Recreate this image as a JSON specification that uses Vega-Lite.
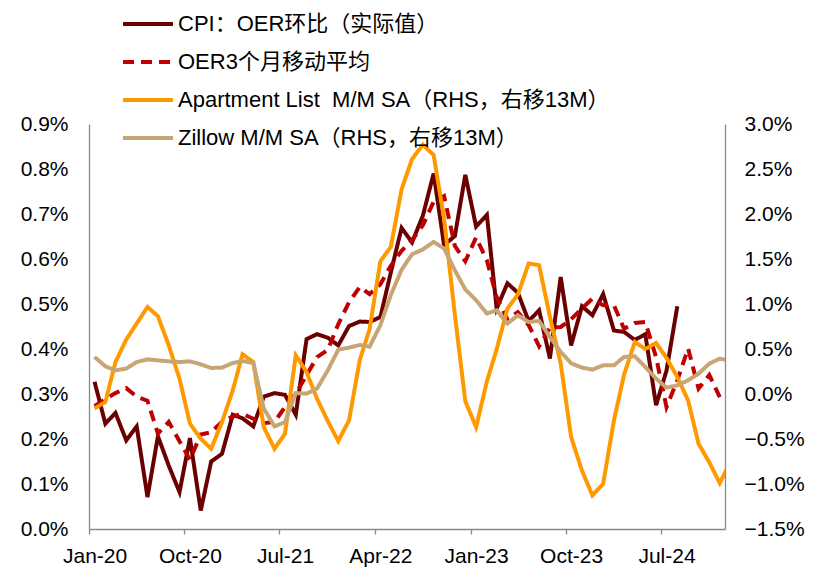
{
  "$schema": "https://vega.github.io/schema/vega-lite/v6.json",
  "width": 636,
  "height": 405,
  "autosize": {"type": "none"},
  "padding": {"left": 89, "top": 124, "right": 96, "bottom": 53},
  "background": "white",
  "config": {
    "view": {"stroke": null},
    "font": "Liberation Sans, Noto Sans CJK SC",
    "axis": {
      "labelFont": "Liberation Sans, Noto Sans CJK SC",
      "labelFontSize": 21,
      "labelColor": "#000000",
      "domainColor": "#898989",
      "domainWidth": 1.3,
      "tickColor": "#898989",
      "tickWidth": 1.3,
      "grid": false,
      "title": null
    }
  },
  "data": {
    "values": [
      {"date": "2020-01-01", "cpi": 0.327, "oer3": 0.273, "apt": -0.16, "zillow": 0.411},
      {"date": "2020-02-01", "cpi": 0.234, "oer3": 0.289, "apt": -0.09, "zillow": 0.308},
      {"date": "2020-03-01", "cpi": 0.258, "oer3": 0.302, "apt": 0.355, "zillow": 0.263},
      {"date": "2020-04-01", "cpi": 0.197, "oer3": 0.313, "apt": 0.605, "zillow": 0.282},
      {"date": "2020-05-01", "cpi": 0.228, "oer3": 0.294, "apt": 0.783, "zillow": 0.355},
      {"date": "2020-06-01", "cpi": 0.071, "oer3": 0.285, "apt": 0.967, "zillow": 0.385},
      {"date": "2020-07-01", "cpi": 0.206, "oer3": 0.212, "apt": 0.864, "zillow": 0.374},
      {"date": "2020-08-01", "cpi": 0.141, "oer3": 0.238, "apt": 0.541, "zillow": 0.363},
      {"date": "2020-09-01", "cpi": 0.082, "oer3": 0.195, "apt": 0.171, "zillow": 0.355},
      {"date": "2020-10-01", "cpi": 0.202, "oer3": 0.154, "apt": -0.33, "zillow": 0.363},
      {"date": "2020-11-01", "cpi": 0.041, "oer3": 0.21, "apt": -0.497, "zillow": 0.33},
      {"date": "2020-12-01", "cpi": 0.15, "oer3": 0.215, "apt": -0.608, "zillow": 0.289},
      {"date": "2021-01-01", "cpi": 0.167, "oer3": 0.238, "apt": -0.312, "zillow": 0.293},
      {"date": "2021-02-01", "cpi": 0.254, "oer3": 0.25, "apt": 0.041, "zillow": 0.344},
      {"date": "2021-03-01", "cpi": 0.246, "oer3": 0.256, "apt": 0.441, "zillow": 0.367},
      {"date": "2021-04-01", "cpi": 0.228, "oer3": 0.245, "apt": 0.355, "zillow": 0.344},
      {"date": "2021-05-01", "cpi": 0.294, "oer3": 0.235, "apt": -0.368, "zillow": -0.16},
      {"date": "2021-06-01", "cpi": 0.302, "oer3": 0.238, "apt": -0.608, "zillow": -0.36},
      {"date": "2021-07-01", "cpi": 0.298, "oer3": 0.271, "apt": -0.441, "zillow": -0.312},
      {"date": "2021-08-01", "cpi": 0.254, "oer3": 0.301, "apt": 0.43, "zillow": 0.011},
      {"date": "2021-09-01", "cpi": 0.422, "oer3": 0.342, "apt": 0.244, "zillow": 0.004},
      {"date": "2021-10-01", "cpi": 0.433, "oer3": 0.382, "apt": -0.052, "zillow": 0.06},
      {"date": "2021-11-01", "cpi": 0.425, "oer3": 0.398, "apt": -0.301, "zillow": 0.263},
      {"date": "2021-12-01", "cpi": 0.408, "oer3": 0.455, "apt": -0.523, "zillow": 0.493},
      {"date": "2022-01-01", "cpi": 0.451, "oer3": 0.504, "apt": -0.293, "zillow": 0.515},
      {"date": "2022-02-01", "cpi": 0.461, "oer3": 0.538, "apt": 0.38, "zillow": 0.545},
      {"date": "2022-03-01", "cpi": 0.46, "oer3": 0.522, "apt": 0.72, "zillow": 0.526},
      {"date": "2022-04-01", "cpi": 0.471, "oer3": 0.544, "apt": 1.475, "zillow": 0.765},
      {"date": "2022-05-01", "cpi": 0.57, "oer3": 0.585, "apt": 1.635, "zillow": 1.1},
      {"date": "2022-06-01", "cpi": 0.669, "oer3": 0.618, "apt": 2.275, "zillow": 1.38},
      {"date": "2022-07-01", "cpi": 0.637, "oer3": 0.642, "apt": 2.61, "zillow": 1.553},
      {"date": "2022-08-01", "cpi": 0.696, "oer3": 0.675, "apt": 2.77, "zillow": 1.606},
      {"date": "2022-09-01", "cpi": 0.79, "oer3": 0.727, "apt": 2.655, "zillow": 1.69},
      {"date": "2022-10-01", "cpi": 0.631, "oer3": 0.74, "apt": 1.95, "zillow": 1.617},
      {"date": "2022-11-01", "cpi": 0.651, "oer3": 0.629, "apt": 0.88, "zillow": 1.375},
      {"date": "2022-12-01", "cpi": 0.787, "oer3": 0.595, "apt": -0.08, "zillow": 1.161},
      {"date": "2023-01-01", "cpi": 0.672, "oer3": 0.648, "apt": -0.368, "zillow": 1.042},
      {"date": "2023-02-01", "cpi": 0.698, "oer3": 0.597, "apt": 0.14, "zillow": 0.894},
      {"date": "2023-03-01", "cpi": 0.49, "oer3": 0.515, "apt": 0.495, "zillow": 0.93},
      {"date": "2023-04-01", "cpi": 0.546, "oer3": 0.466, "apt": 0.95, "zillow": 0.783},
      {"date": "2023-05-01", "cpi": 0.525, "oer3": 0.482, "apt": 1.105, "zillow": 0.875},
      {"date": "2023-06-01", "cpi": 0.462, "oer3": 0.453, "apt": 1.45, "zillow": 0.8},
      {"date": "2023-07-01", "cpi": 0.486, "oer3": 0.406, "apt": 1.431, "zillow": 0.812},
      {"date": "2023-08-01", "cpi": 0.379, "oer3": 0.447, "apt": 0.86, "zillow": 0.634},
      {"date": "2023-09-01", "cpi": 0.56, "oer3": 0.449, "apt": 0.34, "zillow": 0.468},
      {"date": "2023-10-01", "cpi": 0.408, "oer3": 0.466, "apt": -0.479, "zillow": 0.341},
      {"date": "2023-11-01", "cpi": 0.495, "oer3": 0.49, "apt": -0.849, "zillow": 0.293},
      {"date": "2023-12-01", "cpi": 0.475, "oer3": 0.512, "apt": -1.127, "zillow": 0.271},
      {"date": "2024-01-01", "cpi": 0.522, "oer3": 0.497, "apt": -0.997, "zillow": 0.319},
      {"date": "2024-02-01", "cpi": 0.441, "oer3": 0.497, "apt": -0.293, "zillow": 0.319},
      {"date": "2024-03-01", "cpi": 0.438, "oer3": 0.445, "apt": 0.215, "zillow": 0.411},
      {"date": "2024-04-01", "cpi": 0.42, "oer3": 0.458, "apt": 0.578, "zillow": 0.419},
      {"date": "2024-05-01", "cpi": 0.433, "oer3": 0.46, "apt": 0.5, "zillow": 0.3},
      {"date": "2024-06-01", "cpi": 0.275, "oer3": 0.382, "apt": 0.567, "zillow": 0.171},
      {"date": "2024-07-01", "cpi": 0.352, "oer3": 0.271, "apt": 0.4, "zillow": 0.071},
      {"date": "2024-08-01", "cpi": 0.495, "oer3": 0.33, "apt": 0.189, "zillow": 0.096},
      {"date": "2024-09-01", "oer3": 0.401, "apt": -0.071, "zillow": 0.152},
      {"date": "2024-10-01", "oer3": 0.312, "apt": -0.552, "zillow": 0.226},
      {"date": "2024-11-01", "oer3": 0.342, "apt": -0.76, "zillow": 0.338},
      {"date": "2024-12-01", "oer3": 0.293, "apt": -0.99, "zillow": 0.393},
      {"date": "2025-01-01", "apt": -0.75, "zillow": 0.37}
    ]
  },
  "transform": [
    {"fold": ["cpi", "oer3", "apt", "zillow"], "as": ["series", "value"]}
  ],
  "encoding": {
    "x": {
      "field": "date",
      "type": "temporal",
      "scale": {
        "type": "utc",
        "domain": [
          {"year": 2019, "month": 12, "date": 16, "utc": true},
          {"year": 2024, "month": 12, "date": 16, "utc": true}
        ]
      },
      "axis": {
        "values": [
          {"year": 2020, "month": 1, "date": 1, "utc": true},
          {"year": 2020, "month": 10, "date": 1, "utc": true},
          {"year": 2021, "month": 7, "date": 1, "utc": true},
          {"year": 2022, "month": 4, "date": 1, "utc": true},
          {"year": 2023, "month": 1, "date": 1, "utc": true},
          {"year": 2023, "month": 10, "date": 1, "utc": true},
          {"year": 2024, "month": 7, "date": 1, "utc": true}
        ],
        "labelExpr": "utcFormat(datum.value, '%b-%y')",
        "tickSize": 5,
        "tickOffset": -5.5,
        "labelOffset": 5.5,
        "labelPadding": 11,
        "labelFlush": false,
        "labelOverlap": false
      }
    },
    "color": {
      "field": "series",
      "type": "nominal",
      "scale": {
        "domain": ["cpi", "oer3", "apt", "zillow"],
        "range": ["#6A0000", "#C00000", "#FF9900", "#C8A574"]
      },
      "legend": {
        "orient": "none",
        "legendX": 32,
        "legendY": -127,
        "direction": "vertical",
        "title": null,
        "symbolType": "stroke",
        "symbolSize": 2500,
        "symbolStrokeWidth": 4,
        "labelFontSize": 22,
        "labelFont": "Liberation Sans, Noto Sans CJK SC",
        "labelColor": "#000000",
        "labelOffset": 3,
        "labelLimit": 700,
        "rowPadding": 0,
        "labelExpr": "datum.value == 'cpi' ? 'CPI：OER环比（实际值）' : datum.value == 'oer3' ? 'OER3个月移动平均' : datum.value == 'apt' ? 'Apartment List\u00a0 M/M SA（RHS，右移13M）' : 'Zillow M/M SA（RHS，右移13M）'"
      }
    },
    "strokeDash": {
      "field": "series",
      "type": "nominal",
      "scale": {
        "domain": ["cpi", "oer3", "apt", "zillow"],
        "range": [[1, 0], [11, 7], [1, 0], [1, 0]]
      },
      "legend": {
        "orient": "none",
        "legendX": 32,
        "legendY": -127,
        "direction": "vertical",
        "title": null,
        "symbolType": "stroke",
        "symbolSize": 2500,
        "symbolStrokeWidth": 4,
        "labelFontSize": 22,
        "labelFont": "Liberation Sans, Noto Sans CJK SC",
        "labelColor": "#000000",
        "labelOffset": 3,
        "labelLimit": 700,
        "rowPadding": 0,
        "labelExpr": "datum.value == 'cpi' ? 'CPI：OER环比（实际值）' : datum.value == 'oer3' ? 'OER3个月移动平均' : datum.value == 'apt' ? 'Apartment List\u00a0 M/M SA（RHS，右移13M）' : 'Zillow M/M SA（RHS，右移13M）'"
      }
    }
  },
  "layer": [
    {
      "encoding": {
        "y": {
          "field": "value",
          "type": "quantitative",
          "scale": {"domain": [0, 0.9], "nice": false, "zero": false},
          "axis": {
            "orient": "left",
            "values": [0, 0.1, 0.2, 0.3, 0.4, 0.5, 0.6, 0.7, 0.8, 0.9],
            "labelExpr": "format(datum.value, '.1f') + '%'",
            "ticks": false,
            "tickSize": 0,
            "labelPadding": 21
          }
        }
      },
      "layer": [
        {
          "transform": [{"filter": "datum.series == 'cpi'"}],
          "mark": {"type": "line", "strokeWidth": 4, "clip": true}
        },
        {
          "transform": [{"filter": "datum.series == 'oer3'"}],
          "mark": {"type": "line", "strokeWidth": 4, "clip": true}
        }
      ]
    },
    {
      "encoding": {
        "y": {
          "field": "value",
          "type": "quantitative",
          "scale": {"domain": [-1.5, 3], "nice": false, "zero": false},
          "axis": {
            "orient": "right",
            "values": [-1.5, -1, -0.5, 0, 0.5, 1, 1.5, 2, 2.5, 3],
            "labelExpr": "format(datum.value, '.1f') + '%'",
            "ticks": false,
            "tickSize": 0,
            "labelPadding": 19
          }
        }
      },
      "layer": [
        {
          "transform": [{"filter": "datum.series == 'apt'"}],
          "mark": {"type": "line", "strokeWidth": 4, "clip": true}
        },
        {
          "transform": [{"filter": "datum.series == 'zillow'"}],
          "mark": {"type": "line", "strokeWidth": 4, "clip": true}
        }
      ]
    }
  ],
  "resolve": {"scale": {"y": "independent"}}
}
